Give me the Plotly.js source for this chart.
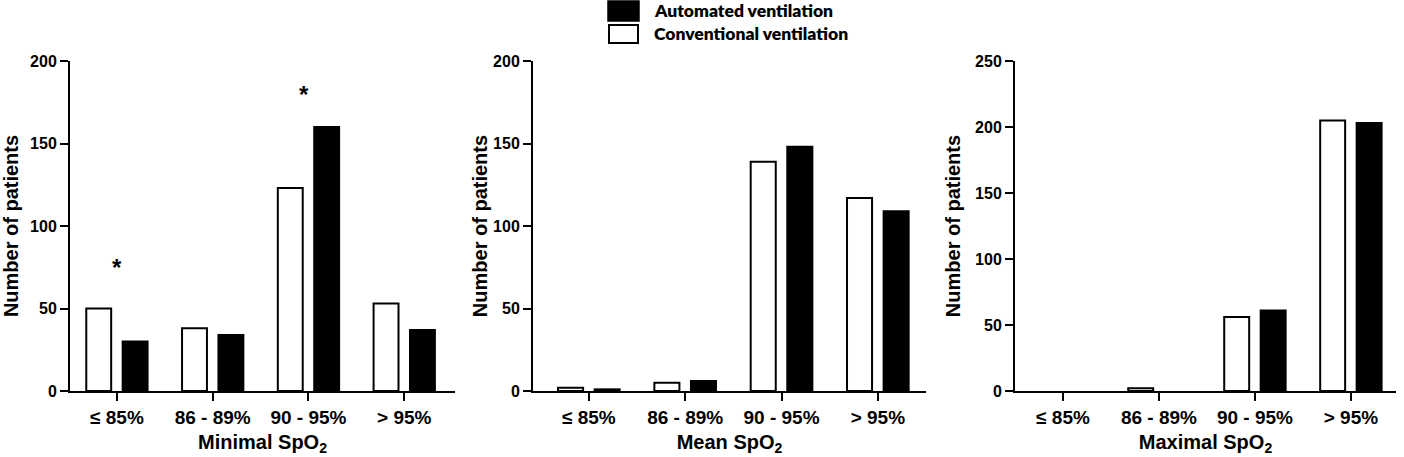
<!DOCTYPE html>
<html><head><meta charset="utf-8">
<script src="https://cdn.plot.ly/plotly-3.0.1.min.js"></script>
<style>html,body{margin:0;padding:0;background:#fff}#chart{width:1404px;height:457px}</style>
</head><body><div id="chart"></div>
<script>
const categories = ['≤ 85%', '86 - 89%', '90 - 95%', '> 95%'];
const minConventional = [50, 38, 123, 53];
const minAutomated    = [30, 34, 160, 37];
const meanConventional = [2, 5, 139, 117];
const meanAutomated    = [1, 6, 148, 109];
const maxConventional = [0, 2, 56, 205];
const maxAutomated    = [0, 0, 61, 203];
const panelTitles = ['Minimal SpO<sub>2</sub>', 'Mean SpO<sub>2</sub>', 'Maximal SpO<sub>2</sub>'];
const yTitle = 'Number of patients';
const legendLabels = ['Automated ventilation', 'Conventional ventilation'];
const asteriskX = [0, 1.95];
const asteriskY = [75, 180];

const F = 'Liberation Sans, Arial, sans-serif';
const panels = [
  {conv: minConventional, auto: minAutomated, xa: 'x', ya: 'y'},
  {conv: meanConventional, auto: meanAutomated, xa: 'x2', ya: 'y2'},
  {conv: maxConventional, auto: maxAutomated, xa: 'x3', ya: 'y3'}
];
const lw = arr => arr.map(v => v > 0 ? 2 : 0);
const traces = [];
panels.forEach(p => {
  traces.push({type: 'bar', x: categories, y: p.conv, xaxis: p.xa, yaxis: p.ya,
    offset: -0.32, width: 0.26, marker: {color: '#ffffff', line: {color: '#000', width: lw(p.conv)}},
    name: legendLabels[1], showlegend: false, hoverinfo: 'skip'});
  traces.push({type: 'bar', x: categories, y: p.auto, xaxis: p.xa, yaxis: p.ya,
    offset: 0.06, width: 0.26, marker: {color: '#000000', line: {color: '#000', width: lw(p.auto)}},
    name: legendLabels[0], showlegend: false, hoverinfo: 'skip'});
});

const W = 1404, H = 457;
const yDom = [1 - 391 / H, 1 - 61 / H];
function xaxis(d0, d1, range, title, anchor) {
  return {domain: [d0 / W, d1 / W], range: range, type: 'category', anchor: anchor,
    showline: true, linecolor: '#000', linewidth: 2, ticks: 'outside', ticklen: 8, tickwidth: 2, tickcolor: '#000',
    showgrid: false, zeroline: false, automargin: false,
    tickfont: {family: F, size: 19, color: '#000', weight: 700},
    title: {text: title, font: {family: F, size: 20, color: '#000', weight: 700}, standoff: 8}};
}
function yaxis(range, dtick, anchor, standoff) {
  return {domain: yDom, range: range, dtick: dtick, anchor: anchor,
    showline: true, linecolor: '#000', linewidth: 2, ticks: 'outside', ticklen: 8, tickwidth: 2, tickcolor: '#000',
    showgrid: false, zeroline: false, automargin: false,
    tickfont: {family: F, size: 16, color: '#000', weight: 700},
    title: {text: yTitle, font: {family: F, size: 20, color: '#000', weight: 700}, standoff: standoff}};
}

const annotations = asteriskX.map((x, i) => ({xref: 'x', yref: 'y', x: x, y: asteriskY[i], text: '*', showarrow: false,
  font: {family: F, size: 24, color: '#000', weight: 700}, yanchor: 'middle'}));
legendLabels.forEach((t, i) => annotations.push({xref: 'paper', yref: 'paper', x: 652 / W, y: 1 - (11 + 22 * i) / H,
  xanchor: 'left', yanchor: 'middle', text: t, showarrow: false,
  font: {family: 'Lato, sans-serif', size: 17.5, color: '#000', weight: 800}}));

const shapes = [
  {type: 'rect', xref: 'paper', yref: 'paper', x0: 608 / W, x1: 639 / W, y0: 1 - 21 / H, y1: 1 - 1 / H,
    fillcolor: '#000', line: {color: '#000', width: 1.5}},
  {type: 'rect', xref: 'paper', yref: 'paper', x0: 609 / W, x1: 638 / W, y0: 1 - 43 / H, y1: 1 - 25 / H,
    fillcolor: '#fff', line: {color: '#000', width: 2}}
];

const layout = {
  width: W, height: H, margin: {l: 0, r: 0, t: 0, b: 0},
  paper_bgcolor: '#fff', plot_bgcolor: '#fff', barmode: 'overlay', showlegend: false,
  xaxis: xaxis(70, 455, [-0.49, 3.53], panelTitles[0], 'y'),
  xaxis2: xaxis(533, 926, [-0.58, 3.5], panelTitles[1], 'y2'),
  xaxis3: xaxis(1015, 1396, [-0.5, 3.47], panelTitles[2], 'y3'),
  yaxis: yaxis([0, 200], 50, 'x', 6),
  yaxis2: yaxis([0, 200], 50, 'x2', 0),
  yaxis3: yaxis([0, 250], 50, 'x3', 9),
  annotations: annotations, shapes: shapes
};
Plotly.newPlot('chart', traces, layout, {displayModeBar: false, staticPlot: true});
</script></body></html>
